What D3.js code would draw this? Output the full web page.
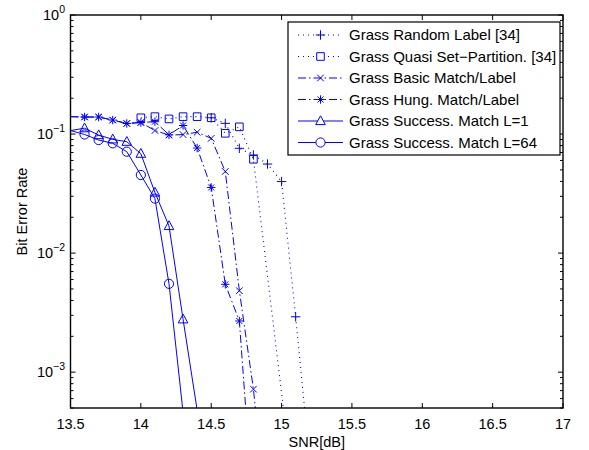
<!DOCTYPE html>
<html>
<head>
<meta charset="utf-8">
<script src="https://cdn.jsdelivr.net/npm/d3@7/dist/d3.min.js"></script>
<style>
  body { margin: 0; background: #fff; }
  text { font-family: "Liberation Sans", Arial, Helvetica, sans-serif; fill: #000; }
</style>
</head>
<body>
<div id="chart"></div>
<script>
// BER curves
const randomSnr = [14.5, 14.6, 14.7, 14.8, 14.9, 15.0, 15.1, 15.2];
const randomBer = [0.137, 0.123, 0.0759, 0.0667, 0.056, 0.0399, 0.00292, 1.8e-4];

const quasiSnr = [14.0, 14.1, 14.2, 14.3, 14.4, 14.5, 14.6, 14.7, 14.8, 15.1];
const quasiBer = [0.137, 0.140, 0.134, 0.140, 0.140, 0.137, 0.1015, 0.115, 0.0614, 7e-5];

const basicSnr = [13.5, 13.6, 13.7, 13.8, 13.9, 14.0, 14.1, 14.2, 14.3, 14.4, 14.5, 14.6, 14.7, 14.8, 14.9];
const basicBer = [0.140, 0.139, 0.139, 0.131, 0.1227, 0.125, 0.107, 0.098, 0.099, 0.1035, 0.092, 0.0485, 0.00483, 7.2e-4, 5e-5];

const hungSnr = [13.5, 13.6, 13.7, 13.8, 13.9, 14.0, 14.1, 14.2, 14.3, 14.4, 14.5, 14.6, 14.7, 14.8];
const hungBer = [0.140, 0.139, 0.139, 0.131, 0.1227, 0.125, 0.127, 0.0985, 0.118, 0.0763, 0.0356, 0.00547, 0.00269, 6.4e-5];

const succ1Snr = [13.5, 13.6, 13.7, 13.8, 13.9, 14.0, 14.1, 14.2, 14.3, 14.4];
const succ1Ber = [0.107, 0.112, 0.098, 0.0903, 0.0862, 0.0684, 0.0323, 0.0169, 0.00278, 4.8e-4];

const succ64Snr = [13.5, 13.6, 13.7, 13.8, 13.9, 14.0, 14.1, 14.2, 14.3];
const succ64Ber = [0.107, 0.0992, 0.0891, 0.0836, 0.0711, 0.0453, 0.0287, 0.00552, 4.6e-4];

const seriesNames = [
    "Grass Random Label [34]",
    "Grass Quasi Set\u2212Partition. [34]",
    "Grass Basic Match/Label",
    "Grass Hung. Match/Label",
    "Grass Success. Match L=1",
    "Grass Success. Match L=64"
];
const seriesMarkers = ["plus", "square", "x", "star", "triangle", "circle"];
const seriesDash = ["dot", "dot", "dashdot", "dashdot", "solid", "solid"];

const xTicks = [13.5, 14, 14.5, 15, 15.5, 16, 16.5, 17];
const yDecades = [-3, -2, -1, 0];

const series = [
    [randomSnr, randomBer], [quasiSnr, quasiBer], [basicSnr, basicBer],
    [hungSnr, hungBer], [succ1Snr, succ1Ber], [succ64Snr, succ64Ber]
].map(([xs, ys], i) => ({
    name: seriesNames[i],
    marker: seriesMarkers[i],
    dash: seriesDash[i],
    points: xs.map((x, j) => ({ x: x, y: ys[j] }))
}));

const W = 589, H = 450;
const x = d3.scaleLinear().domain([13.5, 17]).range([70.5, 563]);
const y = d3.scaleLog().domain([5e-4, 1]).range([408, 15]);
const blue = "#0000ff";
const dashes = { dot: "1,4", dashdot: "8,3,1.5,3", solid: null };

const svg = d3.select("#chart").append("svg")
    .attr("width", W)
    .attr("height", H);

svg.append("defs").append("clipPath").attr("id", "plotClip")
    .append("rect")
    .attr("x", x.range()[0]).attr("y", y.range()[1])
    .attr("width", x.range()[1] - x.range()[0])
    .attr("height", y.range()[0] - y.range()[1]);

// marker outlines, MATLAB style
function markerPath(type) {
    const p = d3.path();
    if (type === "plus") {
        p.moveTo(-4.7, 0); p.lineTo(4.7, 0); p.moveTo(0, -4.7); p.lineTo(0, 4.7);
    } else if (type === "x") {
        p.moveTo(-3.3, -3.3); p.lineTo(3.3, 3.3); p.moveTo(-3.3, 3.3); p.lineTo(3.3, -3.3);
    } else if (type === "star") {
        p.moveTo(-4.2, 0); p.lineTo(4.2, 0); p.moveTo(0, -4.2); p.lineTo(0, 4.2);
        p.moveTo(-3, -3); p.lineTo(3, 3); p.moveTo(-3, 3); p.lineTo(3, -3);
    } else if (type === "square") {
        p.rect(-3.8, -3.8, 7.6, 7.6);
    } else if (type === "triangle") {
        p.moveTo(0, -5.2); p.lineTo(4.8, 3.6); p.lineTo(-4.8, 3.6); p.closePath();
    } else if (type === "circle") {
        p.moveTo(4.6, 0); p.arc(0, 0, 4.6, 0, 2 * Math.PI);
    }
    return p.toString();
}

const plot = svg.append("g");

const line = d3.line().x(d => x(d.x)).y(d => y(d.y));

const curves = plot.selectAll("g.series")
    .data(series)
    .join("g")
    .attr("class", "series");

curves.append("path")
    .attr("clip-path", "url(#plotClip)")
    .attr("d", d => line(d.points))
    .attr("fill", "none")
    .attr("stroke", blue)
    .attr("stroke-width", d => d.dash === "dot" ? 1.1 : 1)
    .attr("stroke-dasharray", d => dashes[d.dash]);

curves.each(function(s) {
    d3.select(this).selectAll("path.marker")
        .data(s.points.filter(p => p.x > 13.5 && p.y >= 5e-4))
        .join("path")
        .attr("class", "marker")
        .attr("transform", p => `translate(${x(p.x)},${y(p.y)})`)
        .attr("d", markerPath(s.marker))
        .attr("fill", "none")
        .attr("stroke", blue)
        .attr("stroke-width", 1);
});

// axes box + ticks
const [x0, x1] = x.range();
const [yb, yt] = y.range();
const axes = svg.append("g").attr("stroke", "#000").attr("fill", "none");

axes.selectAll("line.xt")
    .data(xTicks)
    .join("line")
    .attr("x1", d => x(d)).attr("x2", d => x(d))
    .attr("y1", yb).attr("y2", yb - 5);
axes.selectAll("line.xtt")
    .data(xTicks)
    .join("line")
    .attr("x1", d => x(d)).attr("x2", d => x(d))
    .attr("y1", yt).attr("y2", yt + 5);

const minor = [];
yDecades.forEach(k => {
    for (let m = 2; m <= 9; m++) {
        const v = m * Math.pow(10, k - 1);
        if (v >= 5e-4 && v <= 1) minor.push(v);
    }
});
const yMajor = yDecades.map(k => Math.pow(10, k));

[[x0, 1], [x1, -1]].forEach(([xe, dir]) => {
    axes.append("g").selectAll("line")
        .data(yMajor)
        .join("line")
        .attr("x1", xe).attr("x2", xe + dir * 5)
        .attr("y1", d => y(d)).attr("y2", d => y(d));
    axes.append("g").selectAll("line")
        .data(minor)
        .join("line")
        .attr("x1", xe).attr("x2", xe + dir * 3)
        .attr("y1", d => y(d)).attr("y2", d => y(d));
});

axes.append("rect")
    .attr("x", x0).attr("y", yt)
    .attr("width", x1 - x0).attr("height", yb - yt)
    .attr("stroke-width", 1.4);

// tick labels
svg.append("g").selectAll("text")
    .data(xTicks)
    .join("text")
    .attr("x", d => x(d))
    .attr("y", 429)
    .attr("text-anchor", "middle")
    .style("font-size", "14.5px")
    .text(d => d);

const yLab = svg.append("g").selectAll("text")
    .data(yDecades)
    .join("text")
    .attr("x", 65)
    .attr("y", d => y(Math.pow(10, d)) + 5)
    .attr("text-anchor", "end")
    .style("font-size", "14.5px");
yLab.append("tspan").text("10");
yLab.append("tspan")
    .attr("dy", -7)
    .style("font-size", "10.5px")
    .text(d => d < 0 ? "\u2212" + (-d) : d);

svg.append("text")
    .attr("x", (x0 + x1) / 2)
    .attr("y", 447)
    .attr("text-anchor", "middle")
    .style("font-size", "14.5px")
    .text("SNR[dB]");

svg.append("text")
    .attr("transform", `translate(27,${(yt + yb) / 2}) rotate(-90)`)
    .attr("text-anchor", "middle")
    .style("font-size", "14.5px")
    .text("Bit Error Rate");

// legend
const legend = svg.append("g");
legend.append("rect")
    .attr("x", 288).attr("y", 22)
    .attr("width", 272).attr("height", 133)
    .attr("fill", "#fff")
    .attr("stroke", "#000")
    .attr("stroke-width", 1.2);

const rows = legend.selectAll("g.row")
    .data(series)
    .join("g")
    .attr("class", "row")
    .attr("transform", (d, i) => `translate(0,${35 + i * 21.5})`);

rows.append("line")
    .attr("x1", 298).attr("x2", 343)
    .attr("stroke", blue)
    .attr("stroke-width", d => d.dash === "dot" ? 1.1 : 1)
    .attr("stroke-dasharray", d => dashes[d.dash]);
rows.append("path")
    .attr("transform", "translate(320.5,0)")
    .attr("d", d => markerPath(d.marker))
    .attr("fill", "#fff")
    .attr("stroke", blue)
    .attr("stroke-width", 1);
rows.append("text")
    .attr("x", 349)
    .attr("dy", "0.35em")
    .style("font-size", "15px")
    .text(d => d.name);
</script>
</body>
</html>
